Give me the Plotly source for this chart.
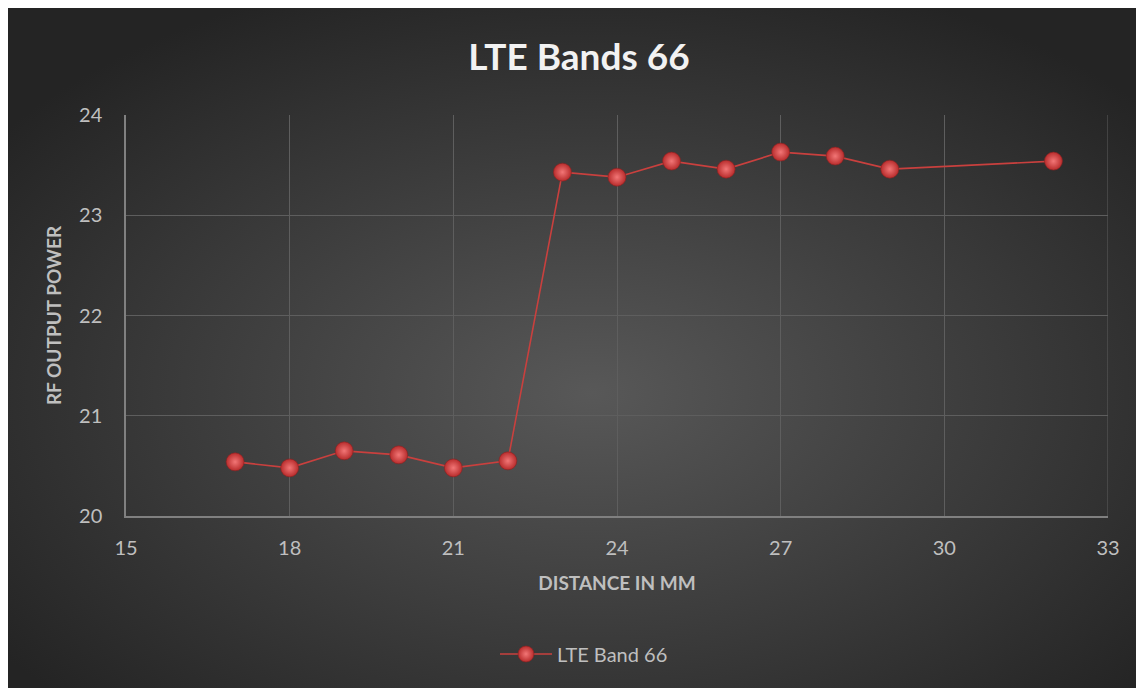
import base64

import plotly.graph_objects as go

# Data
distance_mm = [17, 18, 19, 20, 21, 22, 23, 24, 25, 26, 27, 28, 29, 32]
rf_power = [20.54, 20.48, 20.65, 20.61, 20.48, 20.55,
            23.43, 23.38, 23.54, 23.46, 23.63, 23.59, 23.46, 23.54]
series_name = "LTE Band 66"
chart_title = "LTE Bands 66"
x_ticks = [15, 18, 21, 24, 27, 30, 33]
y_ticks = [20, 21, 22, 23, 24]

# Palette
COLOR_TEXT = "#bfbfbf"
COLOR_TITLE = "#f2f2f2"
COLOR_GRID = "#5e5e5e"
COLOR_AXIS = "#808080"
COLOR_LINE = "#c9403e"
FONT = "Lato, 'Open Sans', sans-serif"

# page body has an 8px margin, so figure coords = page coords - 8
W, H = 1144, 688
L, R, T, B = 118, 44, 107, 180
PW, PH = W - L - R, H - T - B

# radial gradient background as inline svg
svg = (
    f'<svg xmlns="http://www.w3.org/2000/svg" width="{W}" height="{H}">'
    '<defs><radialGradient id="g" cx="51%" cy="56%" r="64%">'
    '<stop offset="0" stop-color="#585858"/>'
    '<stop offset="1" stop-color="#242424"/>'
    '</radialGradient></defs>'
    '<rect width="100%" height="100%" fill="url(#g)"/></svg>'
)
bg_src = "data:image/svg+xml;base64," + base64.b64encode(svg.encode()).decode()

fig = go.Figure(
    go.Scatter(
        x=distance_mm, y=rf_power,
        mode="lines+markers",
        name=series_name,
        line=dict(color=COLOR_LINE, width=1.6),
        marker=dict(
            size=18, color="#b82c2c",
            gradient=dict(type="radial", color="#f27676"),
            line=dict(color="#8a2222", width=0.6),
        ),
    )
)

fig.update_layout(
    width=W, height=H,
    margin=dict(l=L, r=R, t=T, b=B),
    paper_bgcolor="#2a2a2a",
    plot_bgcolor="rgba(0,0,0,0)",
    font=dict(family=FONT, size=20, color=COLOR_TEXT),
    title=dict(
        text=f"<b>{chart_title}</b>",
        font=dict(size=37, color=COLOR_TITLE, family=FONT),
        x=(571 - L) / PW, xref="paper", xanchor="center",
        y=1 - 49 / H, yref="container", yanchor="middle",
    ),
    xaxis=dict(
        range=[15, 33], tickvals=x_ticks,
        showgrid=True, gridcolor=COLOR_GRID, gridwidth=1,
        showline=True, linecolor=COLOR_AXIS, linewidth=1.5,
        zeroline=False, ticks="", ticklabelstandoff=13,
        title=dict(text="<b>DISTANCE IN MM</b>", standoff=19,
                   font=dict(size=19, color=COLOR_TEXT)),
    ),
    yaxis=dict(
        range=[20, 24], tickvals=y_ticks,
        showgrid=True, gridcolor=COLOR_GRID, gridwidth=1,
        showline=True, linecolor=COLOR_AXIS, linewidth=1.5,
        zeroline=False, ticks="", ticklabelstandoff=18,
        title=dict(text="<b>RF OUTPUT POWER</b>", standoff=12,
                   font=dict(size=19, color=COLOR_TEXT)),
    ),
    showlegend=True,
    legend=dict(
        orientation="h",
        x=(576 - L) / PW, xanchor="center",
        y=(T + PH - 646) / PH, yanchor="middle",
        bgcolor="rgba(0,0,0,0)",
        itemwidth=52,
        font=dict(size=20, color=COLOR_TEXT),
    ),
    images=[dict(
        source=bg_src, xref="paper", yref="paper",
        x=-L / PW, y=(T + PH) / PH,
        sizex=W / PW, sizey=H / PH,
        xanchor="left", yanchor="top",
        sizing="stretch", layer="below",
    )],
)

# right border line at x=33 (gridline in reference)
fig.add_vline(x=33, line=dict(color=COLOR_GRID, width=1))

fig.write_html("out.html")
